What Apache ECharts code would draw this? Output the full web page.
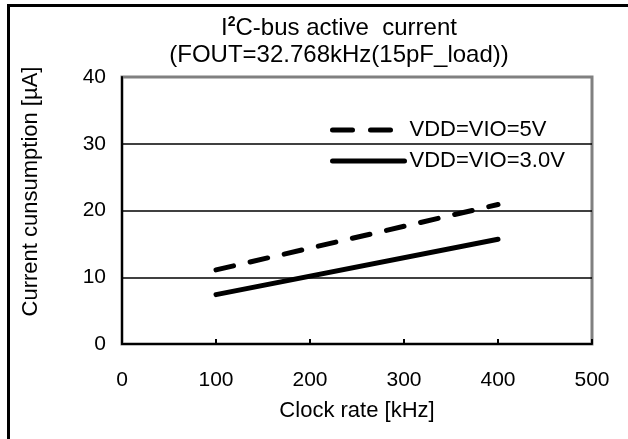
<!DOCTYPE html>
<html>
<head>
<meta charset="utf-8">
<script src="https://cdn.jsdelivr.net/npm/echarts@6/dist/echarts.min.js"></script>
<style>
  html, body { margin: 0; padding: 0; background: #fff; }
  #container { width: 628px; height: 439px; }
</style>
</head>
<body>
<div id="container"></div>
<script>
// clock rate [kHz]
const clockRate = [100, 400];
const current5V = [11.1, 20.9];
const current3V = [7.4, 15.7];
const seriesNames = ['VDD=VIO=5V', 'VDD=VIO=3.0V'];

const font = 'Liberation Sans, Arial, sans-serif';
const dom = document.getElementById('container');
const myChart = echarts.init(dom);

const option = {
  animation: false,
  textStyle: { fontFamily: font, color: '#000' },
  title: {
    text: '{t|I}{sup|2}{t|C-bus active  current}\n{t|(FOUT=32.768kHz(15pF_load))}',
    left: 334,
    textAlign: 'center',
    top: 10,
    textStyle: {
      rich: {
        t: { fontSize: 24, fontFamily: font, color: '#000', lineHeight: 27, fontWeight: 'normal' },
        sup: { fontSize: 14, fontFamily: font, color: '#000', verticalAlign: 'top', lineHeight: 27, padding: [0, 0, 10, 0] },
      },
    },
  },
  legend: {
    orient: 'vertical',
    left: 325,
    top: 114,
    itemWidth: 72,
    itemHeight: 10,
    itemGap: 9,
    data: [
      { name: seriesNames[0], lineStyle: { type: [20, 18], width: 5, color: '#000' } },
      { name: seriesNames[1], lineStyle: { type: 'solid', width: 5, color: '#000' } },
    ],
    itemStyle: { opacity: 0 },
    lineStyle: { width: 5, color: '#000' },
    textStyle: { fontSize: 22, fontFamily: font, color: '#000' },
  },
  grid: {
    left: 122,
    right: 36,
    top: 77,
    bottom: 95,
    show: true,
    borderColor: '#808080',
    borderWidth: 3,
    backgroundColor: 'transparent',
  },
  xAxis: {
    type: 'value',
    min: 0,
    max: 500,
    interval: 100,
    name: 'Clock rate [kHz]',
    nameLocation: 'middle',
    nameGap: 56,
    nameTextStyle: { fontSize: 22, fontFamily: font, color: '#000' },
    axisLine: { lineStyle: { color: '#000', width: 2 } },
    axisTick: { show: true, inside: true, length: 5, lineStyle: { color: '#000', width: 2 } },
    axisLabel: { fontSize: 21, fontFamily: font, color: '#000', margin: 26 },
    splitLine: { show: false },
  },
  yAxis: {
    type: 'value',
    min: 0,
    max: 40,
    interval: 10,
    name: 'Current cunsumption [\u00b5A]',
    nameLocation: 'middle',
    nameGap: 80,
    nameTextStyle: { fontSize: 22, fontFamily: font, color: '#000', padding: [0, 0, 0, 38] },
    axisLine: { show: true, lineStyle: { color: '#000', width: 2 } },
    axisTick: { show: false },
    axisLabel: { fontSize: 21, fontFamily: font, color: '#000', margin: 16 },
    splitLine: { show: true, lineStyle: { color: ['#000', '#000', '#000', '#000', '#808080'], width: 1.5 } },
  },
  series: [
    {
      name: seriesNames[0],
      type: 'line',
      symbol: 'none',
      data: clockRate.map((x, i) => [x, current5V[i]]),
      lineStyle: { color: '#000', width: 5, type: [18, 17], cap: 'round' },
      itemStyle: { color: '#000' },
    },
    {
      name: seriesNames[1],
      type: 'line',
      symbol: 'none',
      data: clockRate.map((x, i) => [x, current3V[i]]),
      lineStyle: { color: '#000', width: 5, cap: 'round' },
      itemStyle: { color: '#000' },
    },
  ],
  graphic: [
    { type: 'rect', shape: { x: 7, y: 4, width: 3, height: 435 }, style: { fill: '#000' } },
    { type: 'rect', shape: { x: 7, y: 4, width: 621, height: 3 }, style: { fill: '#000' } },
  ],
};

myChart.setOption(option, true);
</script>
</body>
</html>
